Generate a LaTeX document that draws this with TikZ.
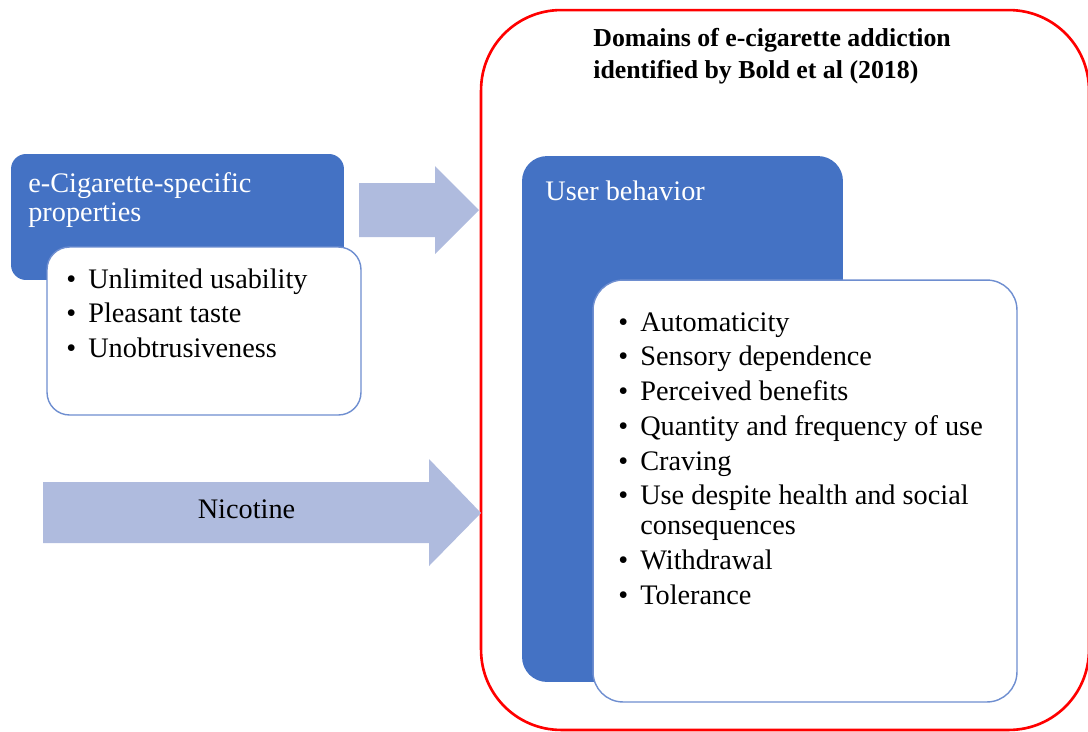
\documentclass[tikz,border=0pt]{standalone}
\usepackage{fontspec}
\setmainfont{Liberation Serif}
\usetikzlibrary{positioning}
\definecolor{officeblue}{RGB}{68,114,196}
\definecolor{lightarrow}{RGB}{175,187,222}
\definecolor{edgeblue}{RGB}{110,142,208}
\newcommand{\bitem}[1]{\makebox[12.5pt][l]{\textbullet}#1}
\newcommand{\bodyfont}{\fontsize{16.1pt}{16.9pt}\selectfont}
\newcommand{\tight}{\spaceskip=0.25em\relax}
\tikzset{domainbox/.style={rectangle,rounded corners=1.6cm,draw=red,line width=1.5pt,minimum width=12.16cm,minimum height=14.4cm}}
\tikzset{header/.style={rectangle,rounded corners=0.3cm,fill=officeblue,inner sep=0pt}}
\tikzset{listbox/.style={rectangle,rounded corners=0.5cm,draw=edgeblue,fill=white,line width=0.8pt,inner sep=0pt}}
\tikzset{fatarrow/.style={fill=lightarrow}}
\tikzset{txt/.style={anchor=base west,inner sep=0pt,align=left,font=\bodyfont}}

\begin{document}
\begin{tikzpicture}[x=0.02cm,y=-0.02cm]
\useasboundingbox (0,0) rectangle (1088,731);
% right part
	\node (domains) [domainbox] at (785,370) {};
	\node (title) [txt,text width=8cm,font=\fontsize{14.7pt}{18.6pt}\selectfont\bfseries] at (593,46) {\tight Domains of e-cigarette addiction\\identified by Bold et al (2018)};
	\node (user) [header,rounded corners=0.5cm,minimum width=6.42cm,minimum height=10.52cm] at (682.5,419) {};
	\node (userlbl) [txt,text width=6cm,text=white] at (545,200) {\tight User behavior};
	\node (userlist) [listbox,rounded corners=0.6cm,minimum width=8.48cm,minimum height=8.44cm] at (805,491) {};
	\node (usertxt) [txt,text width=8.2cm] at (618,331) {\tight\bitem{Automaticity}\\[2.9pt]
		\bitem{Sensory dependence}\\[2.9pt]
		\bitem{Perceived benefits}\\[2.9pt]
		\bitem{Quantity and frequency of use}\\[2.9pt]
		\bitem{Craving}\\[2.9pt]
		\bitem{Use despite health and social}\\
		\hspace*{12.5pt}consequences\\[2.9pt]
		\bitem{Withdrawal}\\[2.9pt]
		\bitem{Tolerance}};
% left part
	\node (ecig) [header,minimum width=6.66cm,minimum height=2.52cm] at (177.5,217) {};
	\node (eciglbl) [txt,text width=6cm,text=white] at (28,192) {e-Cigarette-specific\\properties};
	\node (props) [listbox,rounded corners=0.45cm,minimum width=6.28cm,minimum height=3.36cm] at (204,331) {};
	\node (propstxt) [txt,text width=6cm] at (66,288) {\tight\bitem{Unlimited usability}\\[2.9pt]
		\bitem{Pleasant taste}\\[2.9pt]
		\bitem{Unobtrusiveness}};
% arrows into the domain box
	\coordinate (tipA) at (479,210);
	\fill[fatarrow] (tipA) -- ++(-44,-44) -- ++(0,17) -- ++(-76,0) -- ++(0,54) -- ++(76,0) -- ++(0,17) -- cycle;
	\coordinate (tipB) at (481,513);
	\fill[fatarrow] (tipB) -- ++(-52,-54) -- ++(0,23) -- ++(-386,0) -- ++(0,61) -- ++(386,0) -- ++(0,23) -- cycle;
	\node (nic) [inner sep=0pt,anchor=base,font=\bodyfont] at (246.5,518) {Nicotine};
\end{tikzpicture}
\end{document}
